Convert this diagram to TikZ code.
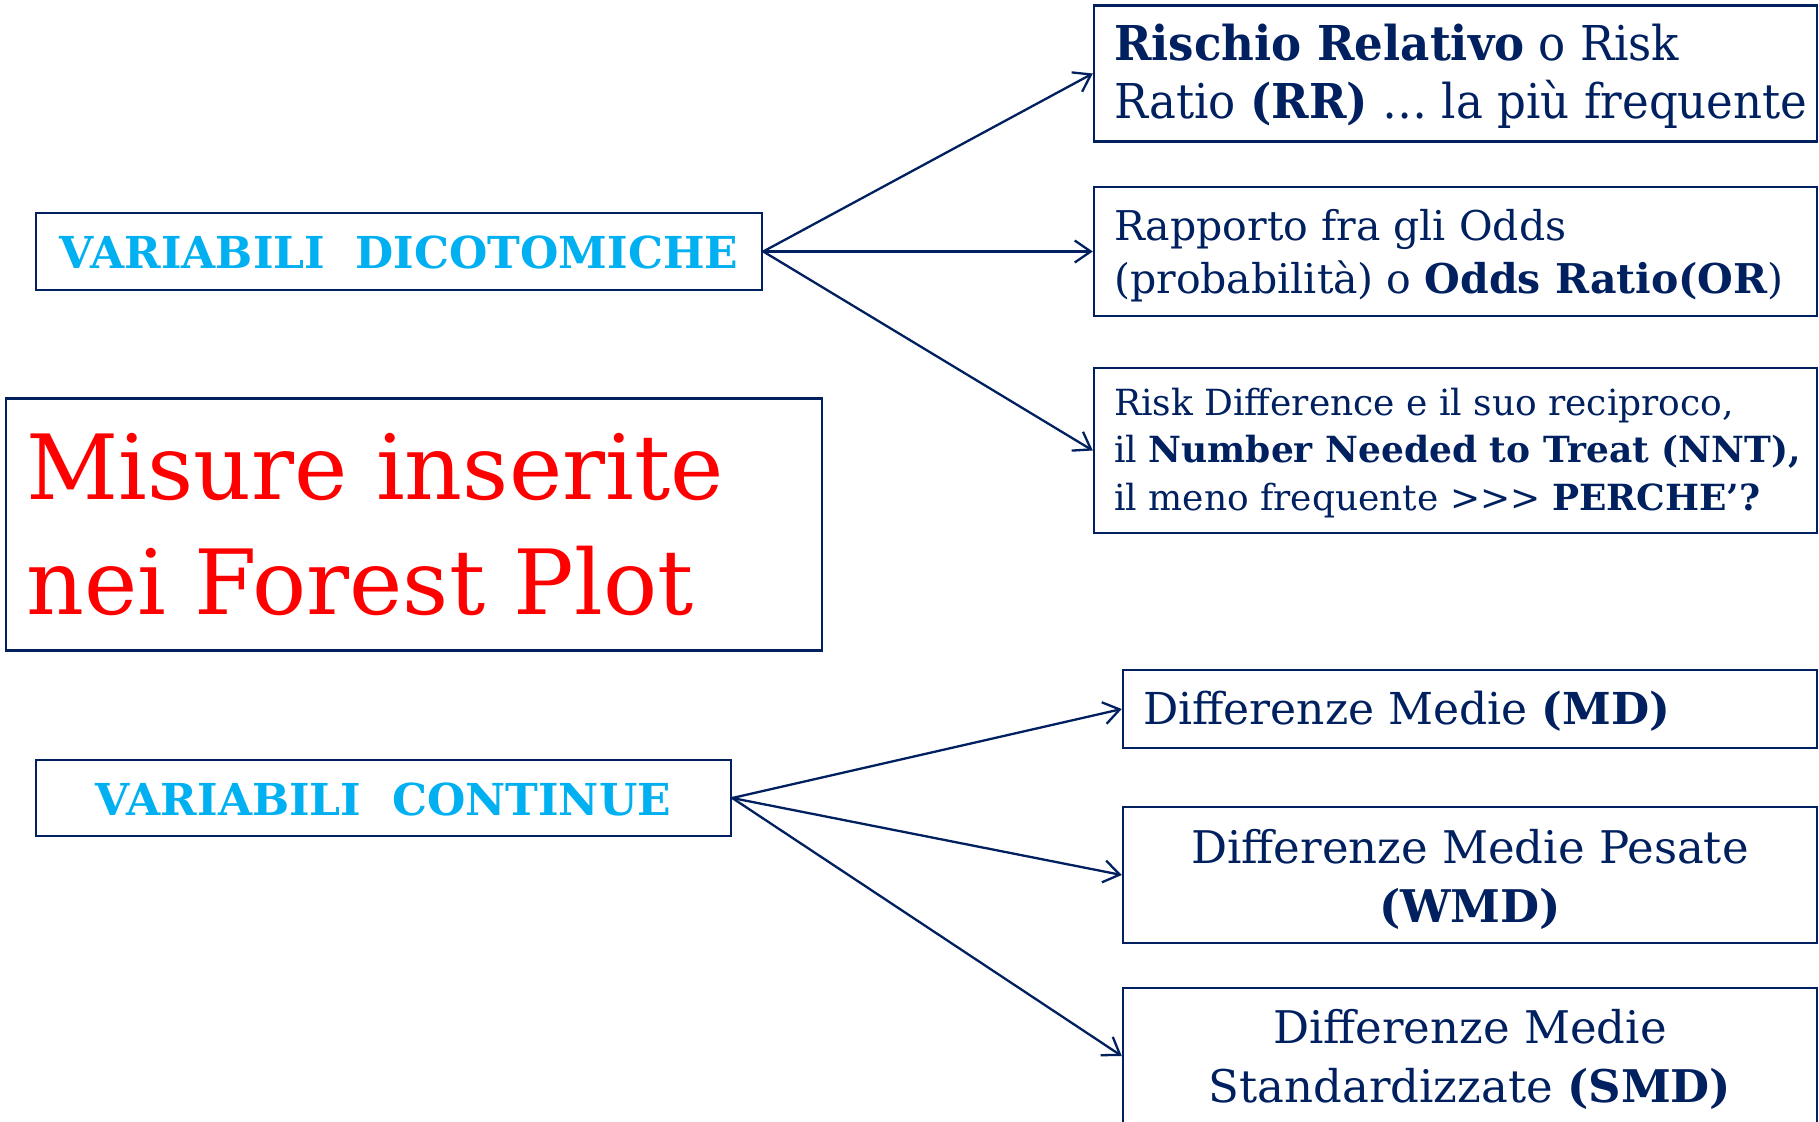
\documentclass[tikz,border=0pt]{standalone}
\usepackage{fontspec}
\setmainfont{DejaVu Serif}
\newfontfamily\narrowfont{DejaVu Serif}[FakeStretch=0.94]
\usetikzlibrary{arrows.meta}
\definecolor{navy}{HTML}{002060}
\definecolor{skyc}{HTML}{00B0F0}
\definecolor{redc}{HTML}{FF0000}
\newcommand\boxlines[4]{{\fontsize{#1}{#2}\selectfont\begin{tabular}[t]{@{}#3@{}}#4\end{tabular}}}
\begin{document}
\begin{tikzpicture}[x=1pt,y=-1pt,
  box/.style={draw=navy, line width=2.5pt, inner sep=0pt, fill=none},
  txt/.style={inner sep=0pt, text=navy},
  conn/.style={draw=navy, line width=2.3pt, -{Straight Barb[length=16pt,width=22pt]}}]
\useasboundingbox[fill=white] (0,0) rectangle (1819,1121);
% boxes
\node[box, minimum width=726pt, minimum height=77pt] (a) at (399,251.5) {};
\node[box, minimum width=816pt, minimum height=252pt] (m) at (414,524.5) {};
\node[box, minimum width=695pt, minimum height=76pt] (c) at (383.5,798) {};
\node[box, minimum width=723pt, minimum height=136pt] (r1) at (1455.5,73.5) {};
\node[box, minimum width=723pt, minimum height=129pt] (r2) at (1455.5,251.5) {};
\node[box, minimum width=723pt, minimum height=165pt] (r3) at (1455.5,450.5) {};
\node[box, minimum width=694pt, minimum height=78pt] (r4) at (1470,709) {};
\node[box, minimum width=694pt, minimum height=136pt] (r5) at (1470,875) {};
\node[box, minimum width=694pt, minimum height=136pt] (r6) at (1470,1056) {};
% texts
\node[txt, text=skyc, anchor=base] (ta) at (399,268) {\fontsize{44}{50}\selectfont\bfseries VARIABILI\ \ DICOTOMICHE};
\node[txt, text=skyc, anchor=base] (tc) at (383.5,815) {\fontsize{44}{50}\selectfont\bfseries VARIABILI\ \ CONTINUE};
\node[txt, text=redc, anchor=base west] (tm) at (26,499) {\boxlines{90}{115}{l}{Misure inserite\\nei Forest Plot}};
\node[txt, anchor=base west] (t1) at (1114,61) {\narrowfont\boxlines{48}{58}{l}{\textbf{Rischio Relativo} o Risk\\Ratio \textbf{(RR)} … la più frequente}};
\node[txt, anchor=base west] (t2) at (1114,240) {\boxlines{41}{53}{l}{Rapporto fra gli Odds\\(probabilità) o \textbf{Odds Ratio(OR}{)}}};
\node[txt, anchor=base west] (t3) at (1114,415) {\boxlines{36}{47.5}{l}{Risk Difference e il suo reciproco,\\il \textbf{Number Needed to Treat (NNT),}\\il meno frequente >{}>{}> \textbf{PERCHE’?}}};
\node[txt, anchor=base west] (t4) at (1143,724) {\boxlines{44}{58}{l}{Differenze Medie \textbf{(MD)}}};
\node[txt, anchor=base] (t5) at (1470,863) {\boxlines{45}{59}{c}{Differenze Medie Pesate\\\textbf{(WMD)}}};
\node[txt, anchor=base] (t6) at (1470,1043) {\boxlines{45}{59}{c}{Differenze Medie\\Standardizzate \textbf{(SMD)}}};
% connectors
\draw[conn] (a.east) -- (r1.west);
\draw[conn] (a.east) -- (r2.west);
\draw[conn] (a.east) -- (r3.west);
\draw[conn] (c.east) -- (r4.west);
\draw[conn] (c.east) -- (r5.west);
\draw[conn] (c.east) -- (r6.west);
\end{tikzpicture}
\end{document}
